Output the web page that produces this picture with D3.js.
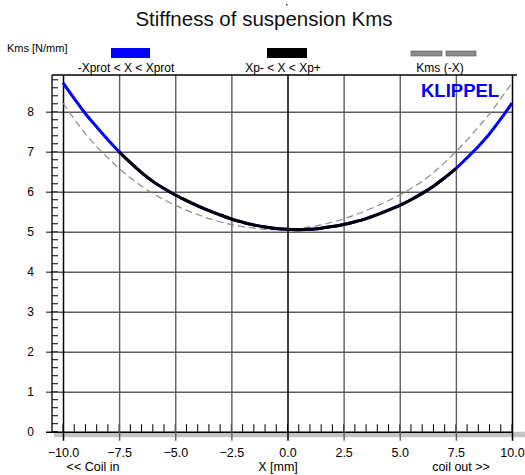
<!DOCTYPE html>
<html>
<head>
<meta charset="utf-8">
<script src="https://cdn.jsdelivr.net/npm/d3@7"></script>
<style>
  body { margin: 0; background: #fff; }
  svg { display: block; font-family: "Liberation Sans", Arial, sans-serif; }
  .axis .domain { display: none; }
</style>
</head>
<body>
<div id="chart"></div>
<script>
// displacement samples [mm]
const xValues = [-10, -9.5, -9, -8.5, -8, -7.5, -7, -6.5, -6, -5.5, -5, -4.5, -4, -3.5, -3, -2.5, -2, -1.5, -1, -0.5,
  0, 0.5, 1, 1.5, 2, 2.5, 3, 3.5, 4, 4.5, 5, 5.5, 6, 6.5, 7, 7.5, 8, 8.5, 9, 9.5, 10];
// Kms(X) [N/mm]
const kmsValues = [8.72, 8.33, 7.95, 7.62, 7.30, 7.00, 6.73, 6.48, 6.26, 6.08, 5.92, 5.78, 5.65, 5.53, 5.42, 5.32, 5.24, 5.17, 5.12, 5.08,
  5.06, 5.05, 5.06, 5.09, 5.13, 5.18, 5.25, 5.33, 5.43, 5.54, 5.66, 5.80, 5.96, 6.14, 6.35, 6.58, 6.85, 7.13, 7.45, 7.82, 8.22];
const xpRange = [-7.5, 7.5];
const xTicks = [-10, -7.5, -5, -2.5, 0, 2.5, 5, 7.5, 10];
const yTicks = [0, 1, 2, 3, 4, 5, 6, 7, 8];
const legendLabels = ['-Xprot < X < Xprot', 'Xp- < X < Xp+', 'Kms (-X)'];

const W = 525, H = 475;
const x = d3.scaleLinear().domain([-10, 10]).range([63, 512]);
const y = d3.scaleLinear().domain([0, 8.92]).range([431.7, 75]);
const frameLeft = 52, plotTop = 75, plotBottom = y(0);

const svg = d3.select('#chart').append('svg')
    .attr('width', W)
    .attr('height', H);

// title
svg.append('text')
    .attr('x', 264).attr('y', 26)
    .attr('text-anchor', 'middle')
    .attr('font-size', 20.5)
    .attr('fill', '#111')
    .text('Stiffness of suspension Kms');
svg.append('rect').attr('x', 286).attr('y', 4).attr('width', 1.5).attr('height', 1.5).attr('fill', '#333');

svg.append('text')
    .attr('x', 7).attr('y', 52)
    .attr('font-size', 11)
    .text('Kms [N/mm]');

// legend
const legendX = [130.5, 287, 443.5];
svg.append('rect').attr('x', legendX[0] - 19.5).attr('y', 48).attr('width', 39).attr('height', 10).attr('fill', '#0000ff');
svg.append('rect').attr('x', legendX[1] - 20).attr('y', 48).attr('width', 40).attr('height', 10).attr('fill', '#000');
svg.append('rect').attr('x', legendX[2] - 32.5).attr('y', 51).attr('width', 31).attr('height', 5)
    .attr('fill', '#8c8c8c').attr('stroke', '#555').attr('stroke-width', 0.6);
svg.append('rect').attr('x', legendX[2] + 2.5).attr('y', 51).attr('width', 30).attr('height', 5)
    .attr('fill', '#8c8c8c').attr('stroke', '#555').attr('stroke-width', 0.6);
svg.selectAll('.legend-label')
    .data(legendLabels)
    .join('text')
    .attr('class', 'legend-label')
    .attr('x', (d, i) => [126, 283, 440][i])
    .attr('y', 72)
    .attr('text-anchor', 'middle')
    .attr('font-size', 12)
    .text(d => d);

// bottom shadow
svg.append('rect').attr('x', 54).attr('y', plotBottom).attr('width', W - 54).attr('height', 5.5).attr('fill', '#c3c3c3');

// minor ticks
const xMinor = d3.range(-10, 10.01, 0.5);
svg.append('g').selectAll('line')
    .data(xMinor)
    .join('line')
    .attr('x1', d => x(d)).attr('x2', d => x(d))
    .attr('y1', plotBottom - 7.5).attr('y2', plotBottom)
    .attr('stroke', '#000').attr('stroke-width', 1);
const yMinor = d3.range(0, 8.81, 0.2);
svg.append('g').selectAll('line')
    .data(yMinor)
    .join('line')
    .attr('x1', frameLeft).attr('x2', frameLeft + 6)
    .attr('y1', d => y(d)).attr('y2', d => y(d))
    .attr('stroke', '#000').attr('stroke-width', 1);

// horizontal grid + y labels
const yAxis = d3.axisLeft(y)
    .tickValues(yTicks)
    .tickSize(-(x(10) - 46))
    .tickPadding(12)
    .tickFormat(d3.format('d'));
const yAxisG = svg.append('g')
    .attr('class', 'axis')
    .attr('transform', 'translate(46,0)')
    .call(yAxis);
yAxisG.selectAll('line')
    .attr('stroke', d => d === 0 ? '#000' : '#5e5e5e')
    .attr('stroke-width', d => d === 0 ? 1.5 : 1.4);
yAxisG.selectAll('text')
    .attr('font-size', 12)
    .attr('fill', '#000')
    .attr('x', -12)
    .attr('font-family', '"Liberation Sans", Arial, sans-serif');

// vertical grid + x labels
const xAxis = d3.axisBottom(x)
    .tickValues(xTicks)
    .tickSize(-(plotBottom - plotTop))
    .tickFormat(d3.format('.1f'));
const xAxisG = svg.append('g')
    .attr('class', 'axis')
    .attr('transform', `translate(0,${plotBottom + 9})`)
    .call(xAxis);
xAxisG.selectAll('line')
    .attr('y1', -(plotBottom - plotTop) - 9).attr('y2', 0)
    .attr('stroke', d => (d === 0 || Math.abs(d) === 10) ? '#000' : '#5e5e5e')
    .attr('stroke-width', d => (d === 0 || Math.abs(d) === 10) ? 1.5 : 1.4);
xAxisG.selectAll('text')
    .attr('y', 16)
    .attr('dy', 0)
    .attr('font-size', 12.5)
    .attr('fill', '#000')
    .attr('font-family', '"Liberation Sans", Arial, sans-serif');

// frame lines
svg.append('line').attr('x1', frameLeft).attr('x2', frameLeft).attr('y1', plotTop).attr('y2', plotBottom)
    .attr('stroke', '#000').attr('stroke-width', 1.3);
svg.append('line').attr('x1', frameLeft).attr('x2', 517).attr('y1', plotTop).attr('y2', plotTop)
    .attr('stroke', '#000').attr('stroke-width', 1.3);

// axis captions
svg.append('text').attr('x', 93).attr('y', 471).attr('text-anchor', 'middle').attr('font-size', 12.5).text('<< Coil in');
svg.append('text').attr('x', 278).attr('y', 471).attr('text-anchor', 'middle').attr('font-size', 12.5).text('X [mm]');
svg.append('text').attr('x', 461).attr('y', 471).attr('text-anchor', 'middle').attr('font-size', 12.5).text('coil out >>');

// curves
const pts = xValues.map((d, i) => ({x: d, k: kmsValues[i]}));
const mirrored = xValues.map((d, i) => ({x: d, k: kmsValues[xValues.length - 1 - i]}));
const line = d3.line()
    .x(d => x(d.x))
    .y(d => y(d.k))
    .curve(d3.curveMonotoneX);

svg.append('path')
    .datum(mirrored)
    .attr('d', line)
    .attr('fill', 'none')
    .attr('stroke', '#8a8a8a')
    .attr('stroke-width', 1.2)
    .attr('stroke-dasharray', '7,4');

svg.append('path')
    .datum(pts)
    .attr('d', line)
    .attr('fill', 'none')
    .attr('stroke', '#0000ff')
    .attr('stroke-width', 3);

svg.append('path')
    .datum(pts.filter(d => d.x >= xpRange[0] && d.x <= xpRange[1]))
    .attr('d', line)
    .attr('fill', 'none')
    .attr('stroke', '#000')
    .attr('stroke-width', 3);

svg.append('text')
    .attr('x', 421).attr('y', 97)
    .attr('font-size', 18.5)
    .attr('font-weight', 'bold')
    .attr('fill', '#0000ff')
    .text('KLIPPEL');
</script>
</body>
</html>
